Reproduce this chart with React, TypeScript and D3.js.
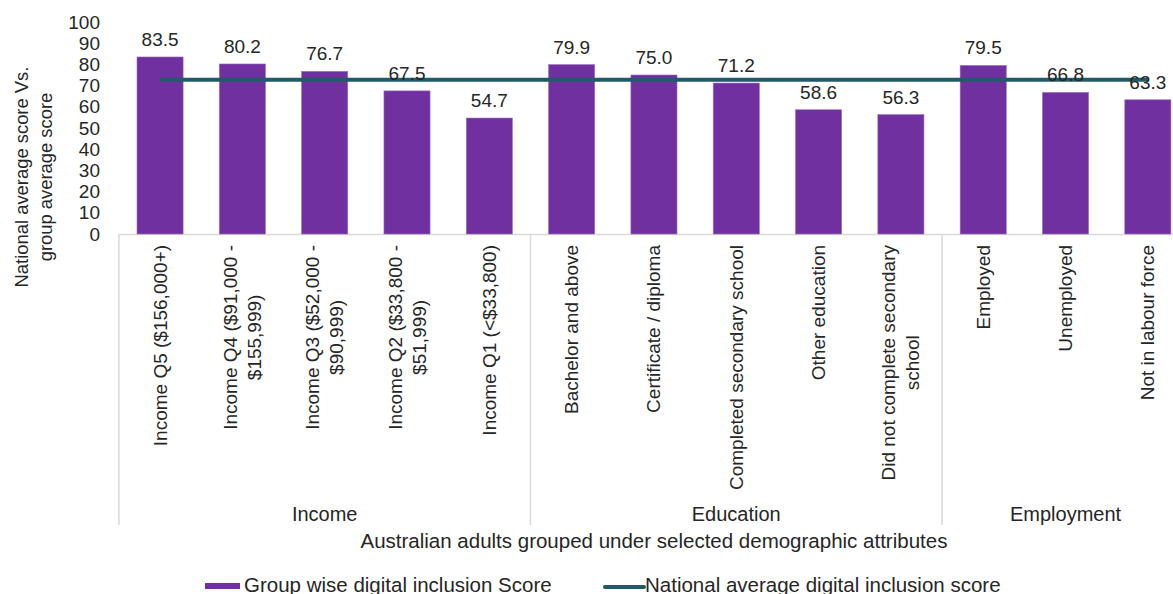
import React from "react";
import * as d3 from "d3";

const categories = [
  "Income Q5 ($156,000+)",
  "Income Q4 ($91,000 -\n$155,999)",
  "Income Q3 ($52,000 -\n$90,999)",
  "Income Q2 ($33,800 -\n$51,999)",
  "Income Q1 (<$33,800)",
  "Bachelor and above",
  "Certificate / diploma",
  "Completed secondary school",
  "Other education",
  "Did not complete secondary\nschool",
  "Employed",
  "Unemployed",
  "Not in labour force",
];
const groupScores = [83.5, 80.2, 76.7, 67.5, 54.7, 79.9, 75.0, 71.2, 58.6, 56.3, 79.5, 66.8, 63.3];
const nationalAverage = [72.8, 72.8, 72.8, 72.8, 72.8, 72.8, 72.8, 72.8, 72.8, 72.8, 72.8, 72.8, 72.8];
const groupNames = ["Income", "Education", "Employment"];
const groupSizes = [5, 5, 3];
const yTicks = [0, 10, 20, 30, 40, 50, 60, 70, 80, 90, 100];
const legendBar = "Group wise digital inclusion Score";
const legendLine = "National average digital inclusion score";
const xTitle = "Australian adults grouped under selected demographic attributes";
const yTitle = ["National average score Vs.", "group average score"];

const FONT = "'Liberation Sans', Arial, sans-serif";
const FS = 19;
const TEXT = "#262626";
const BAR = "#7030a0";
const LINE = "#215a69";
const GRID = "#d9d9d9";

let ctx: CanvasRenderingContext2D | null = null;
function measure(s: string): number {
  if (!ctx) {
    const c = document.createElement("canvas");
    ctx = c.getContext("2d");
  }
  if (!ctx) return s.length * FS * 0.5;
  ctx.font = `${FS}px ${FONT}`;
  return ctx.measureText(s).width;
}

export default function App() {
  const W = 1173, H = 594;
  const x0 = 118.9, x1 = 1189;
  const x = d3.scaleBand<string>().domain(categories).range([x0, x1]).paddingInner(0.44).paddingOuter(0.22);
  const y = d3.scaleLinear().domain([0, 100]).range([234, 22]);
  const bw = x.bandwidth();
  const cx = (c: string) => (x(c) as number) + bw / 2;

  const line = d3.line<number>().x((_, i) => cx(categories[i])).y((v) => y(v));

  const bounds: number[] = [x0];
  let acc = 0;
  groupSizes.forEach((n) => { acc += n; bounds.push(x0 + (x1 - x0) * acc / categories.length); });
  const catTop = 245;
  const lh = 24;

  return (
    <svg width={W} height={H} style={{ position: "absolute", left: 0, top: 0, background: "#fff" }} fontFamily={FONT}>
      {yTicks.map((t) => (
        <text key={t} x={100} y={y(t)} textAnchor="end" dominantBaseline="central" fontSize={FS} fill={TEXT}>{t}</text>
      ))}
      {yTitle.map((s, i) => (
        <text key={i} transform={`translate(${21 + i * 24},177) rotate(-90)`} textAnchor="middle" dominantBaseline="central" fontSize={18.4} fill={TEXT}>{s}</text>
      ))}
      <line x1={x0} x2={x1} y1={y(0) + 0.5} y2={y(0) + 0.5} stroke={GRID} strokeWidth={1.5} />
      {bounds.map((b, i) => (
        <line key={i} x1={b} x2={b} y1={y(0)} y2={525} stroke={GRID} strokeWidth={1.5} />
      ))}
      {categories.map((c, i) => (
        <rect key={c} x={x(c)} y={y(groupScores[i])} width={bw} height={y(0) - y(groupScores[i])} fill={BAR} stroke="#9b6cc0" strokeWidth={0.6} />
      ))}
      <path d={line(nationalAverage) || ""} fill="none" stroke={LINE} strokeWidth={4} />
      {categories.map((c, i) => (
        <text key={c} x={cx(c)} y={y(groupScores[i]) - 11} textAnchor="middle" fontSize={FS} fill={TEXT}>{groupScores[i].toFixed(1)}</text>
      ))}
      {categories.map((c) => {
        const lines = c.split("\n");
        const w = Math.max(...lines.map(measure));
        const n = lines.length;
        return (
          <g key={c} transform={`translate(${cx(c)},${catTop}) rotate(-90)`}>
            {lines.map((l, j) => (
              <text key={j} x={-w / 2} y={(j - (n - 1) / 2) * lh} textAnchor="middle" dominantBaseline="central" fontSize={FS} fill={TEXT}>{l}</text>
            ))}
          </g>
        );
      })}
      {groupNames.map((g, i) => (
        <text key={g} x={(bounds[i] + bounds[i + 1]) / 2} y={514} textAnchor="middle" dominantBaseline="central" fontSize={20} fill={TEXT}>{g}</text>
      ))}
      <text x={(x0 + x1) / 2} y={540} textAnchor="middle" dominantBaseline="central" fontSize={20.5} fill={TEXT}>{xTitle}</text>
      <rect x={205} y={583} width={35} height={6} fill={BAR} />
      <text x={244} y={584} dominantBaseline="central" fontSize={20.5} fill={TEXT}>{legendBar}</text>
      <line x1={605} x2={644} y1={587} y2={587} stroke={LINE} strokeWidth={4} strokeLinecap="round" />
      <text x={645} y={584} dominantBaseline="central" fontSize={20.5} fill={TEXT}>{legendLine}</text>
    </svg>
  );
}
